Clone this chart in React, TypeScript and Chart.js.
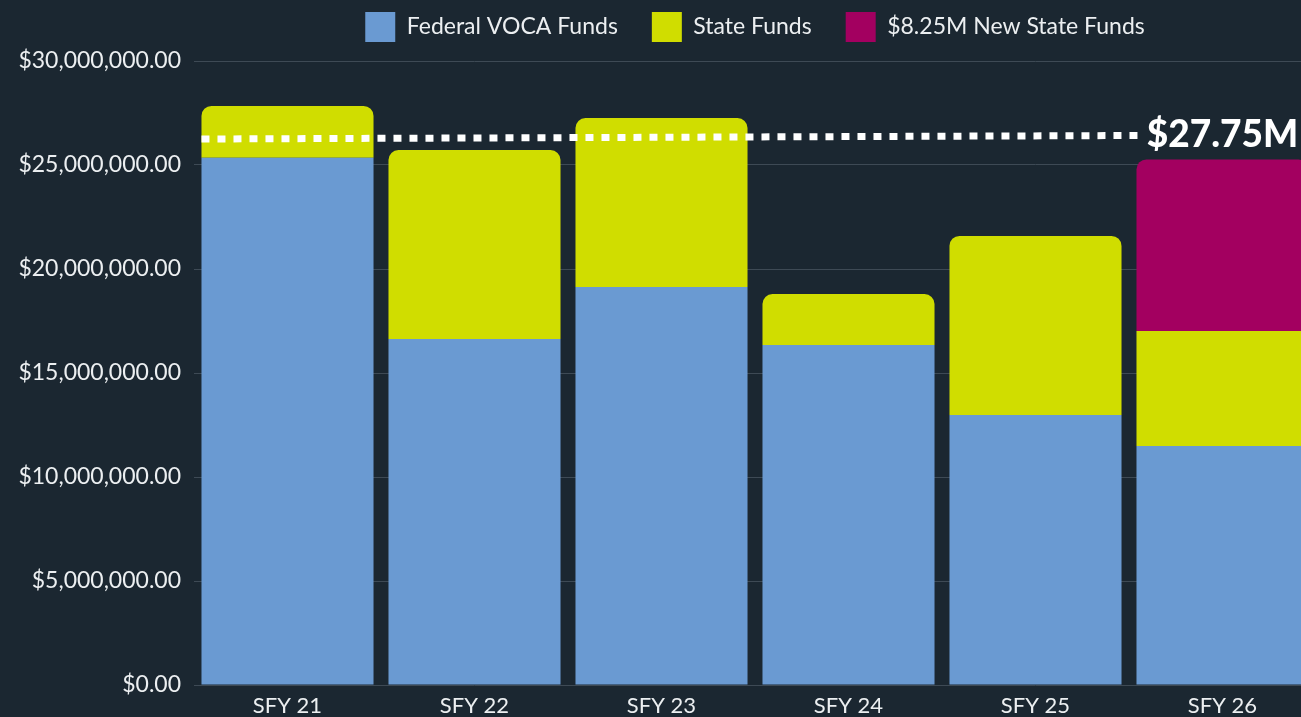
import React, { useEffect, useRef } from "react";
import { Chart, registerables } from "chart.js";

Chart.register(...registerables);

const categories = ["SFY 21", "SFY 22", "SFY 23", "SFY 24", "SFY 25", "SFY 26"];
const federalVoca = [25350000, 16630000, 19130000, 16350000, 12980000, 11490000];
const stateFunds = [2490000, 9090000, 8130000, 2450000, 8610000, 5530000];
const newStateFunds = [0, 0, 0, 0, 0, 8250000];
const seriesLabels = ["Federal VOCA Funds", "State Funds", "$8.25M New State Funds"];
const yTicks = [0, 5000000, 10000000, 15000000, 20000000, 25000000, 30000000];
const targetLineStart = 26250000;
const targetLineEnd = 26420000;
const targetLabel = "$27.75M";

const BG = "#1b2731";
const TEXT = "#eceff1";
const FONT = "Lato, 'Open Sans', sans-serif";

export default function App() {
  const canvasRef = useRef<HTMLCanvasElement | null>(null);

  useEffect(() => {
    const canvas = canvasRef.current;
    if (!canvas) return;

    const legendSpacer = {
      id: "legendSpacer",
      afterInit(chart: any) {
        const lg = chart.legend;
        if (lg && !lg.__spaced) {
          const orig = lg.fit;
          lg.fit = function () {
            orig.call(this);
            this.height += 9;
          };
          lg.__spaced = true;
        }
      },
    };

    const targetLine = {
      id: "targetLine",
      afterDatasetsDraw(chart: any) {
        const { ctx, scales } = chart;
        const x = scales.x;
        const y = scales.y;
        const firstBar = chart.getDatasetMeta(0).data[0];
        const startX = firstBar.x - firstBar.width / 2;
        ctx.save();
        ctx.font = `900 37px ${FONT}`;
        const w = ctx.measureText(targetLabel).width;
        const cx = x.getPixelForValue(categories.length - 1);
        const lx = cx - w / 2;
        const y0 = y.getPixelForValue(targetLineStart);
        const y1 = y.getPixelForValue(targetLineEnd);
        ctx.strokeStyle = "#ffffff";
        ctx.lineWidth = 7;
        ctx.setLineDash([8, 8]);
        ctx.lineCap = "butt";
        ctx.beginPath();
        ctx.moveTo(startX, y0);
        ctx.lineTo(lx - 2, y1);
        ctx.stroke();
        ctx.setLineDash([]);
        ctx.fillStyle = "#ffffff";
        ctx.textBaseline = "middle";
        ctx.textAlign = "left";
        ctx.fillText(targetLabel, lx, y1);
        ctx.restore();
      },
    };

    const radiusTop = { topLeft: 10, topRight: 10, bottomLeft: 0, bottomRight: 0 };

    const chart = new Chart(canvas, {
      type: "bar",
      data: {
        labels: categories,
        datasets: [
          {
            label: seriesLabels[0],
            data: federalVoca,
            backgroundColor: "#6a9ad2",
            borderWidth: 0,
            borderRadius: 0,
          },
          {
            label: seriesLabels[1],
            data: stateFunds,
            backgroundColor: "#d0dd00",
            borderWidth: 0,
            borderRadius: (c: any) => (newStateFunds[c.dataIndex] > 0 ? 0 : radiusTop),
          },
          {
            label: seriesLabels[2],
            data: newStateFunds,
            backgroundColor: "#a30060",
            borderWidth: 0,
            borderRadius: radiusTop,
          },
        ],
      },
      options: {
        responsive: false,
        animation: false,
        layout: { padding: 0 },
        datasets: {
          bar: { barPercentage: 0.92, categoryPercentage: 1, borderSkipped: "start" },
        },
        plugins: {
          legend: {
            position: "top",
            fullSize: false,
            labels: {
              boxWidth: 30,
              boxHeight: 30,
              padding: 34,
              color: TEXT,
              font: { family: FONT, size: 23 },
            },
          },
          tooltip: { enabled: false },
          title: { display: false },
        },
        scales: {
          x: {
            stacked: true,
            grid: { display: false, drawTicks: false },
            border: { display: false },
            ticks: { color: TEXT, font: { family: FONT, size: 22 }, padding: 8, maxRotation: 0 },
            afterFit: (s: any) => {
              s.height = 40;
            },
          },
          y: {
            stacked: true,
            min: 0,
            max: 30000000,
            afterBuildTicks: (s: any) => {
              s.ticks = yTicks.map((v) => ({ value: v }));
            },
            grid: { color: "#3e4a55", lineWidth: 1, drawTicks: false },
            border: { display: false },
            ticks: {
              color: TEXT,
              font: { family: FONT, size: 23 },
              padding: 13,
              callback: (v: any) =>
                "$" + Number(v).toLocaleString("en-US", { minimumFractionDigits: 2, maximumFractionDigits: 2 }),
            },
            afterFit: (s: any) => {
              s.width = 194;
            },
          },
        },
      },
      plugins: [legendSpacer, targetLine],
    });

    return () => chart.destroy();
  }, []);

  return (
    <div
      style={{
        position: "fixed",
        left: 0,
        top: 0,
        width: 1301,
        height: 717,
        overflow: "hidden",
        background: BG,
      }}
    >
      <div style={{ position: "absolute", left: 0, top: -22, width: 1316, height: 747 }}>
        <canvas ref={canvasRef} width={1316} height={747} style={{ display: "block" }} />
      </div>
    </div>
  );
}
